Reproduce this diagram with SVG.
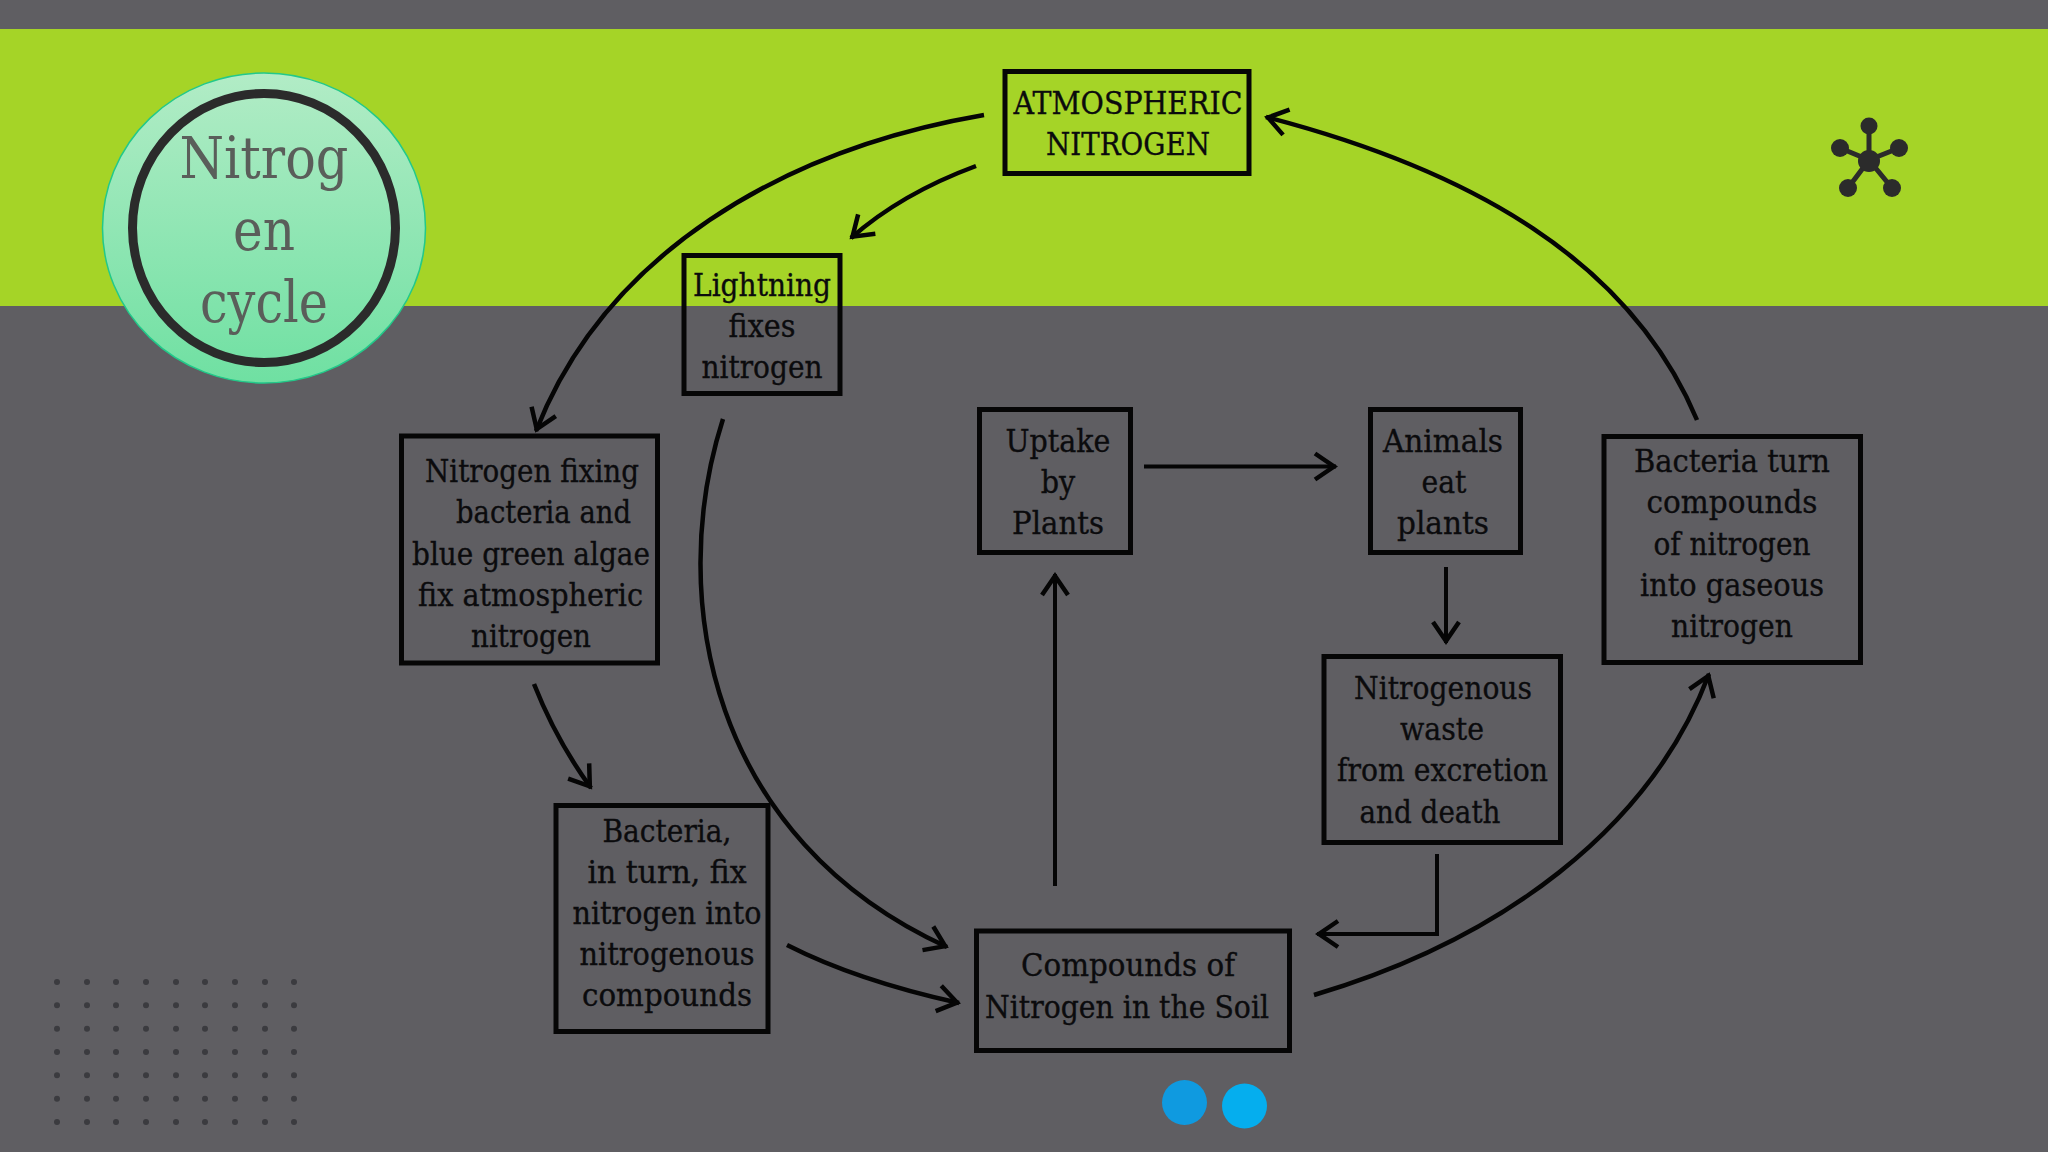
<svg xmlns="http://www.w3.org/2000/svg" width="2048" height="1152" viewBox="0 0 2048 1152">
<defs>
<style>
.box{fill:none;stroke:#060606;stroke-width:5}
.t{font-family:"DejaVu Serif","Liberation Serif",serif;font-size:31px;fill:#0b0b0d;stroke:#0b0b0d;stroke-width:.35;text-anchor:middle}
.title{font-family:"DejaVu Serif","Liberation Serif",serif;font-size:57px;fill:#5a5e5a;text-anchor:middle}
.c{fill:none;stroke:#050505;stroke-width:4.500;marker-end:url(#ah)}
.s{stroke-width:4}
.dots circle{fill:#3b3b3f}
.ic{fill:#2b2b2b}
</style>
<marker id="ah" markerUnits="userSpaceOnUse" markerWidth="40" markerHeight="40" refX="30" refY="20" orient="auto">
<path d="M9 7L28 20L9 33" fill="none" stroke="#050505" stroke-width="4.500"/>
</marker>
<linearGradient id="g" x1="0" y1="0" x2="0" y2="1"><stop offset="0" stop-color="#b2ecc6"/><stop offset="1" stop-color="#6fe0a2"/></linearGradient>
</defs>
<rect width="2048" height="1152" fill="#5f5e62"/>
<rect y="29" width="2048" height="277" fill="#a5d427"/>
<g id="title-badge">
<ellipse cx="264" cy="228" rx="161.500" ry="155" fill="url(#g)" stroke="#22c98a" stroke-width="1.500"/>
<ellipse cx="264" cy="228" rx="131.500" ry="134.500" fill="none" stroke="#2b2b2b" stroke-width="9"/>
<text class="title" x="264" y="178" textLength="169" lengthAdjust="spacingAndGlyphs">Nitrog</text>
<text class="title" x="264" y="250" textLength="62" lengthAdjust="spacingAndGlyphs">en</text>
<text class="title" x="264" y="322" textLength="128" lengthAdjust="spacingAndGlyphs">cycle</text>
</g>
<g id="connectors">
<path class="c" d="M984 115C780 150 605 255 536 431"/>
<path class="c" d="M976 166C930 183 885 208 851 238"/>
<path class="c" d="M723 419C665 600 712 840 947 947"/>
<path class="c" d="M787 945C840 972 900 990 959 1003"/>
<path class="c" d="M534 684C549 722 567 755 591 788"/>
<path class="c s" d="M1055 886V574"/>
<path class="c s" d="M1144 466.500H1336"/>
<path class="c s" d="M1446 567V643"/>
<path class="c s" d="M1437 854V934H1317"/>
<path class="c" d="M1314 995C1500 940 1650 830 1709 674"/>
<path class="c" d="M1697 420C1630 260 1470 170 1266 117"/>
</g>
<g id="atmospheric-nitrogen">
<rect class="box" x="1005" y="71.500" width="244" height="102"/>
<text class="t" x="1128" y="114" textLength="229" lengthAdjust="spacingAndGlyphs">ATMOSPHERIC</text>
<text class="t" x="1128" y="155" textLength="164" lengthAdjust="spacingAndGlyphs">NITROGEN</text>
</g>
<g id="lightning">
<rect class="box" x="684" y="255.500" width="156" height="138"/>
<text class="t" x="762" y="296" textLength="138" lengthAdjust="spacingAndGlyphs">Lightning</text>
<text class="t" x="762" y="337" textLength="67" lengthAdjust="spacingAndGlyphs">fixes</text>
<text class="t" x="762" y="378" textLength="121" lengthAdjust="spacingAndGlyphs">nitrogen</text>
</g>
<g id="nitrogen-fixing">
<rect class="box" x="401.500" y="436" width="256" height="227"/>
<text class="t" x="532" y="482" textLength="214" lengthAdjust="spacingAndGlyphs">Nitrogen fixing</text>
<text class="t" x="543.500" y="523" textLength="175" lengthAdjust="spacingAndGlyphs">bacteria and</text>
<text class="t" x="531" y="564.500" textLength="238" lengthAdjust="spacingAndGlyphs">blue green algae</text>
<text class="t" x="530.500" y="605.500" textLength="225" lengthAdjust="spacingAndGlyphs">fix atmospheric</text>
<text class="t" x="531" y="646.500" textLength="120" lengthAdjust="spacingAndGlyphs">nitrogen</text>
</g>
<g id="bacteria-fix">
<rect class="box" x="556" y="805.500" width="212" height="226"/>
<text class="t" x="667" y="842" textLength="129" lengthAdjust="spacingAndGlyphs">Bacteria,</text>
<text class="t" x="667" y="883" textLength="159" lengthAdjust="spacingAndGlyphs">in turn, fix</text>
<text class="t" x="667" y="924" textLength="189" lengthAdjust="spacingAndGlyphs">nitrogen into</text>
<text class="t" x="667" y="965" textLength="175" lengthAdjust="spacingAndGlyphs">nitrogenous</text>
<text class="t" x="667" y="1006" textLength="170" lengthAdjust="spacingAndGlyphs">compounds</text>
</g>
<g id="compounds-soil">
<rect class="box" x="976.500" y="931" width="313" height="119.500"/>
<text class="t" x="1128" y="976" textLength="214" lengthAdjust="spacingAndGlyphs">Compounds of</text>
<text class="t" x="1127" y="1017.500" textLength="284" lengthAdjust="spacingAndGlyphs">Nitrogen in the Soil</text>
</g>
<g id="uptake">
<rect class="box" x="979.500" y="409.500" width="151" height="143"/>
<text class="t" x="1058" y="452" textLength="105" lengthAdjust="spacingAndGlyphs">Uptake</text>
<text class="t" x="1058" y="493" textLength="34.500" lengthAdjust="spacingAndGlyphs">by</text>
<text class="t" x="1058" y="534" textLength="92" lengthAdjust="spacingAndGlyphs">Plants</text>
</g>
<g id="animals">
<rect class="box" x="1370.500" y="409.500" width="150" height="143"/>
<text class="t" x="1443" y="452" textLength="120" lengthAdjust="spacingAndGlyphs">Animals</text>
<text class="t" x="1444" y="493" textLength="45" lengthAdjust="spacingAndGlyphs">eat</text>
<text class="t" x="1443" y="534" textLength="92" lengthAdjust="spacingAndGlyphs">plants</text>
</g>
<g id="nitrogenous-waste">
<rect class="box" x="1324" y="656.500" width="236.500" height="186"/>
<text class="t" x="1443" y="699" textLength="178" lengthAdjust="spacingAndGlyphs">Nitrogenous</text>
<text class="t" x="1442" y="740" textLength="84" lengthAdjust="spacingAndGlyphs">waste</text>
<text class="t" x="1442.500" y="781" textLength="211" lengthAdjust="spacingAndGlyphs">from excretion</text>
<text class="t" x="1430" y="822.500" textLength="141" lengthAdjust="spacingAndGlyphs">and death</text>
</g>
<g id="bacteria-turn">
<rect class="box" x="1604" y="436.500" width="256.500" height="226"/>
<text class="t" x="1732" y="472" textLength="196" lengthAdjust="spacingAndGlyphs">Bacteria turn</text>
<text class="t" x="1732" y="513" textLength="171" lengthAdjust="spacingAndGlyphs">compounds</text>
<text class="t" x="1732" y="554.500" textLength="157" lengthAdjust="spacingAndGlyphs">of nitrogen</text>
<text class="t" x="1732" y="595.500" textLength="184" lengthAdjust="spacingAndGlyphs">into gaseous</text>
<text class="t" x="1732" y="636.500" textLength="122" lengthAdjust="spacingAndGlyphs">nitrogen</text>
</g>
<g id="icon">
<path d="M1869 160V125M1869 160L1840 148M1869 160L1899 148M1869 160L1848 188M1869 160L1892 188" stroke="#2b2b2b" stroke-width="5" fill="none"/>
<circle class="ic" cx="1869" cy="161" r="11"/><circle class="ic" cx="1869" cy="126" r="8.500"/><circle class="ic" cx="1840" cy="148" r="9"/><circle class="ic" cx="1899" cy="148" r="9"/><circle class="ic" cx="1848" cy="188" r="9"/><circle class="ic" cx="1892" cy="188" r="9"/>
</g>
<g id="blue-dots"><circle cx="1184.500" cy="1102.500" r="22.500" fill="#0f9ae0"/><circle cx="1244.500" cy="1106" r="22.500" fill="#05aeee"/></g>
<g id="dot-grid" class="dots">
<g id="r1"><circle cx="57" cy="982" r="3"/><circle cx="87" cy="982" r="3"/><circle cx="116" cy="982" r="3"/><circle cx="146" cy="982" r="3"/><circle cx="176" cy="982" r="3"/><circle cx="205" cy="982" r="3"/><circle cx="235" cy="982" r="3"/><circle cx="265" cy="982" r="3"/><circle cx="294" cy="982" r="3"/></g>
<use href="#r1" y="23.300"/><use href="#r1" y="46.700"/><use href="#r1" y="70"/><use href="#r1" y="93.300"/><use href="#r1" y="116.700"/><use href="#r1" y="140"/>
</g>
</svg>
